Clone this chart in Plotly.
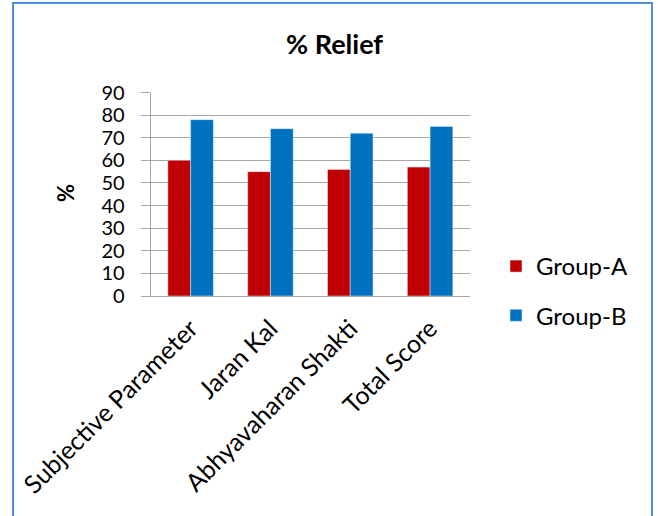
import plotly.graph_objects as go

categories = ["Subjective Parameter", "Jaran Kal", "Abhyavaharan Shakti", "Total Score"]
group_a = [60, 55, 56, 57]
group_b = [78, 74, 72, 75]
y_ticks = [0, 10, 20, 30, 40, 50, 60, 70, 80, 90]

W, H = 658, 516
FONT = "Lato"


def px(x):
    return x / W


def py(y):
    return 1 - y / H


fig = go.Figure()
fig.add_trace(go.Bar(name="Group-A", x=categories, y=group_a, marker_color="#C00000", legendgroup="a"))
fig.add_trace(go.Bar(name="Group-B", x=categories, y=group_b, marker_color="#0070C0", legendgroup="b"))

fig.update_layout(
    width=W, height=H,
    margin=dict(l=0, r=0, t=0, b=0),
    paper_bgcolor="white", plot_bgcolor="white",
    barmode="group", bargap=0.43, bargroupgap=0,
    font=dict(family=FONT, color="#000000"),
    xaxis=dict(domain=[px(150.7), px(470)], tickangle=-45, tickfont=dict(size=25, family=FONT),
               showline=True, linecolor="#a6a6a6", linewidth=1, ticks="", showgrid=False,
               automargin=False, ticklabelstandoff=7),
    yaxis=dict(domain=[py(296), py(92.5)], range=[0, 90], tickvals=y_ticks,
               tickfont=dict(size=20, family=FONT),
               showgrid=True, gridcolor="#a6a6a6", gridwidth=1, showline=True, linecolor="#a6a6a6",
               ticks="outside", ticklen=9, tickcolor="#a6a6a6", zeroline=False, automargin=False,
               ticklabelstandoff=12),
    legend=dict(x=px(496), y=py(244), xanchor="left", yanchor="top",
                font=dict(size=24, family=FONT), tracegroupgap=15, itemwidth=30,
                bgcolor="rgba(0,0,0,0)"),
    showlegend=True,
)

fig.add_annotation(text="<b>% Relief</b>", x=px(334), y=py(43), xref="paper", yref="paper",
                   showarrow=False, font=dict(size=27, family=FONT), xanchor="center", yanchor="middle")
fig.add_annotation(text="<b>%</b>", x=px(65), y=py(193), xref="paper", yref="paper",
                   showarrow=False, textangle=-90, font=dict(size=22, family=FONT),
                   xanchor="center", yanchor="middle")

fig.add_shape(type="rect", xref="paper", yref="paper",
              x0=px(13), x1=px(652), y0=py(560), y1=py(3),
              line=dict(color="#4a90d9", width=2), fillcolor="rgba(0,0,0,0)", layer="above")

fig.write_html("out.html", config={"displayModeBar": False},
               post_script="document.body.style.margin='0';document.body.style.overflow='hidden';")
